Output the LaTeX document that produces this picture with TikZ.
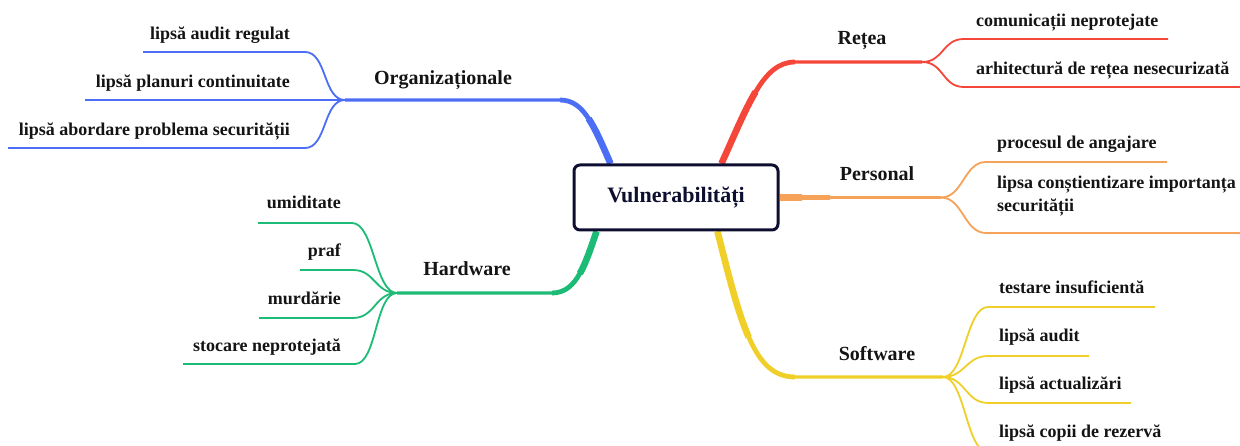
\documentclass[tikz,border=0pt]{standalone}
\usepackage{fontspec}
\setmainfont{LiberationSerif}[Extension=.ttf, UprightFont=*-Regular, BoldFont=*-Bold, ItalicFont=*-Italic, BoldItalicFont=*-BoldItalic]
\usetikzlibrary{backgrounds}
\definecolor{cblue}{RGB}{76,110,245}
\definecolor{cred}{RGB}{245,70,58}
\definecolor{corange}{RGB}{246,162,88}
\definecolor{cgreen}{RGB}{28,188,118}
\definecolor{cyellow}{RGB}{240,208,40}
\definecolor{cnavy}{RGB}{14,14,48}
\definecolor{ctext}{RGB}{20,20,20}
\begin{document}
\begin{tikzpicture}[x=1pt,y=-1pt,
  rootbox/.style={draw=cnavy, line width=3pt, rounded corners=6pt, fill=white,
    minimum width=204pt, minimum height=65pt, inner sep=0pt,
    font=\fontsize{22}{26}\selectfont\bfseries, text=cnavy},
  branchlabel/.style={inner sep=0pt, anchor=base, text=ctext,
    font=\fontsize{20}{24}\selectfont\bfseries},
  leafL/.style={inner sep=0pt, anchor=base east, text=ctext,
    font=\fontsize{18}{23}\selectfont\bfseries},
  leafR/.style={inner sep=0pt, anchor=base west, text=ctext,
    font=\fontsize{18}{23}\selectfont\bfseries},
  trunk/.style={line width=3.2pt},
  trunkmid/.style={line width=4.8pt},
  trunkroot/.style={line width=6.6pt},
  twig/.style={line width=1.8pt},
  twigL/.style={twig, to path={.. controls +(-22,0) and +(22,0) .. (\tikztotarget)}},
  twigR/.style={twig, to path={.. controls +(22,0) and +(-22,0) .. (\tikztotarget)}}
]
\useasboundingbox (0,0) rectangle (1240,446);

% central node
\node[rootbox] (root) at (676,197.5) {Vulnerabilități};

% branch start points on the central box
\coordinate (bO) at ([xshift=38pt]root.north west);
\coordinate (bR) at ([xshift=-58pt]root.north east);
\coordinate (bP) at (root.east);
\coordinate (bS) at ([xshift=-62pt]root.south east);
\coordinate (bH) at ([xshift=24pt]root.south west);

% bends (end of the curved part), half-way points of the curves, junctions
\coordinate (kO) at (560,100);  \coordinate (hO) at (588.6,118.6); \coordinate (jO) at (345,100);
\coordinate (kR) at (795,62);   \coordinate (hR) at (755.6,91.75); \coordinate (jR) at (922,62);
\coordinate (kP) at (830,197.5);\coordinate (hP) at (802,197.5);   \coordinate (jP) at (941,197.5);
\coordinate (kS) at (795,377);  \coordinate (hS) at (748.75,337.25); \coordinate (jS) at (943,377);
\coordinate (kH) at (552,293);  \coordinate (hH) at (579.9,273.5); \coordinate (jH) at (397,293);

% leaf underline ends (inner / outer)
\coordinate (iO1) at (305,52);  \coordinate (oO1) at (143,52);
\coordinate (oO2) at (85,100);
\coordinate (iO3) at (305,148); \coordinate (oO3) at (8,148);
\coordinate (iR1) at (964,39);  \coordinate (oR1) at (1168,39);
\coordinate (iR2) at (964,87);  \coordinate (oR2) at (1240,87);
\coordinate (iP1) at (986,162); \coordinate (oP1) at (1167,162);
\coordinate (iP2) at (986,233); \coordinate (oP2) at (1240,233);
\coordinate (iS1) at (988,307); \coordinate (oS1) at (1155,307);
\coordinate (iS2) at (988,356); \coordinate (oS2) at (1089,356);
\coordinate (iS3) at (988,403); \coordinate (oS3) at (1131,403);
\coordinate (iS4) at (988,452); \coordinate (oS4) at (1175,452);
\coordinate (iH1) at (352,223); \coordinate (oH1) at (258,223);
\coordinate (iH2) at (353,270); \coordinate (oH2) at (300,270);
\coordinate (iH3) at (353,318); \coordinate (oH3) at (259,318);
\coordinate (iH4) at (355,364); \coordinate (oH4) at (183,364);

\begin{scope}[on background layer]
  \fill[white] (0,0) rectangle (1240,446);

  % Organizationale: tapering trunk, then leaves
  \draw[cblue, trunk] (bO) .. controls (594,128) and (585,100) .. (kO) -- (jO);
  \draw[cblue, trunkmid] (bO) .. controls (594,128) and (585,100) .. (kO);
  \draw[cblue, trunkroot] (bO) .. controls (603,146.5) and (596.25,130.25) .. (hO);
  \draw[cblue, twigL] (jO) to (iO1) -- (oO1);
  \draw[cblue, twig] (jO) -- (oO2);
  \draw[cblue, twigL] (jO) to (iO3) -- (oO3);

  % Retea
  \draw[cred, trunk] (bR) .. controls (748,107) and (762,62) .. (kR) -- (jR);
  \draw[cred, trunkmid] (bR) .. controls (748,107) and (762,62) .. (kR);
  \draw[cred, trunkroot] (bR) .. controls (734,136) and (744.5,110.25) .. (hR);
  \draw[cred, twigR] (jR) to (iR1) -- (oR1);
  \draw[cred, twigR] (jR) to (iR2) -- (oR2);

  % Personal
  \draw[corange, trunk] (bP) -- (jP);
  \draw[corange, trunkmid] (bP) -- (kP);
  \draw[corange, trunkroot] (bP) -- (hP);
  \draw[corange, twigR] (jP) to (iP1) -- (oP1);
  \draw[corange, twigR] (jP) to (iP2) -- (oP2);

  % Software
  \draw[cyellow, trunk] (bS) .. controls (741,320) and (752,377) .. (kS) -- (jS);
  \draw[cyellow, trunkmid] (bS) .. controls (741,320) and (752,377) .. (kS);
  \draw[cyellow, trunkroot] (bS) .. controls (728.5,275) and (737.5,311.75) .. (hS);
  \draw[cyellow, twigR] (jS) to (iS1) -- (oS1);
  \draw[cyellow, twigR] (jS) to (iS2) -- (oS2);
  \draw[cyellow, twigR] (jS) to (iS3) -- (oS3);
  \draw[cyellow, twigR] (jS) to (iS4) -- (oS4);

  % Hardware
  \draw[cgreen, trunk] (bH) .. controls (585,262) and (578,293) .. (kH) -- (jH);
  \draw[cgreen, trunkmid] (bH) .. controls (585,262) and (578,293) .. (kH);
  \draw[cgreen, trunkroot] (bH) .. controls (591.5,246) and (586.5,261.75) .. (hH);
  \draw[cgreen, twigL] (jH) to (iH1) -- (oH1);
  \draw[cgreen, twigL] (jH) to (iH2) -- (oH2);
  \draw[cgreen, twigL] (jH) to (iH3) -- (oH3);
  \draw[cgreen, twigL] (jH) to (iH4) -- (oH4);
\end{scope}

% branch labels
\node[branchlabel] (lO) at (443,85) {Organizaționale};
\node[branchlabel] (lR) at (862,45) {Rețea};
\node[branchlabel] (lP) at (877,181) {Personal};
\node[branchlabel] (lS) at (877,360) {Software};
\node[branchlabel] (lH) at (467,276) {Hardware};

% leaves
\node[leafL] (tO1) at (290,40) {lipsă audit regulat};
\node[leafL] (tO2) at (290,88) {lipsă planuri continuitate};
\node[leafL] (tO3) at (290,136) {lipsă abordare problema securității};

\node[leafR] (tR1) at (976,27) {comunicații neprotejate};
\node[leafR] (tR2) at (976,75) {arhitectură de rețea nesecurizată};

\node[leafR] (tP1) at (997,149) {procesul de angajare};
\node[leafR, align=left] (tP2) at (997,212) {lipsa conștientizare importanța\\securității};

\node[leafR] (tS1) at (999,294) {testare insuficientă};
\node[leafR] (tS2) at (999,342) {lipsă audit};
\node[leafR] (tS3) at (999,389) {lipsă actualizări};
\node[leafR] (tS4) at (999,437) {lipsă copii de rezervă};

\node[leafL] (tH1) at (341,209) {umiditate};
\node[leafL] (tH2) at (341,257) {praf};
\node[leafL] (tH3) at (341,305) {murdărie};
\node[leafL] (tH4) at (341,352) {stocare neprotejată};
\end{tikzpicture}
\end{document}
